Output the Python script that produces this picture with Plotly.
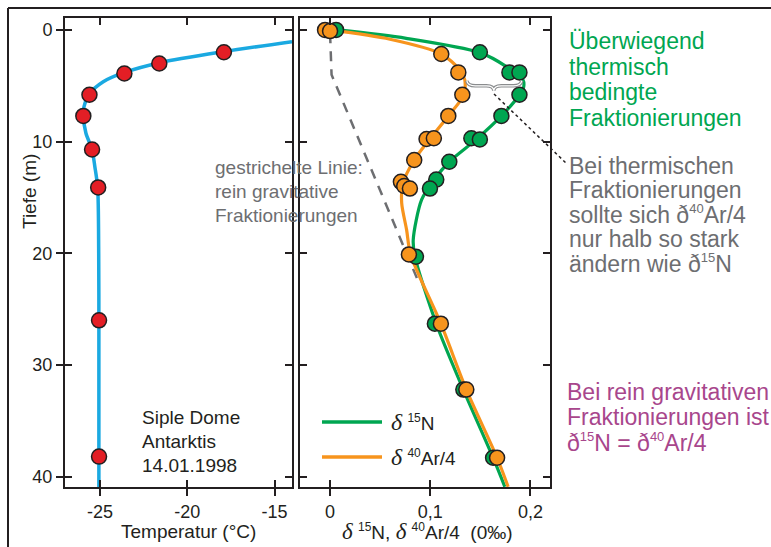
import plotly.graph_objects as go

# ---------------- data ----------------
# Left panel: temperature profile, Siple Dome
temp_depth = [2.0, 3.0, 3.9, 5.8, 7.7, 10.7, 14.1, 26.0, 38.2]
temp_val = [-17.9, -21.6, -23.6, -25.6, -25.95, -25.45, -25.1, -25.05, -25.05]
temp_curve_depth = [1.05, 1.94, 2.93, 3.82, 4.63, 5.73, 6.87, 7.67, 9.25, 10.65, 12.24, 14.1, 20.0, 26.0, 41.0]
temp_curve_val = [-14.0, -17.9, -21.57, -23.63, -24.81, -25.61, -25.91, -25.95, -25.8, -25.46, -25.29, -25.13, -25.07, -25.06, -25.06]

# Right panel: delta15N and delta40Ar/4 measurements
n15_depth = [0.0, 2.0, 3.8, 3.8, 5.8, 7.7, 9.7, 9.8, 11.8, 13.4, 14.2, 20.3, 26.3, 32.2, 38.3]
n15_val = [0.006, 0.1495, 0.179, 0.189, 0.189, 0.171, 0.141, 0.1495, 0.119, 0.106, 0.0997, 0.0857, 0.1046, 0.133, 0.1627]
ar_depth = [0.0, 0.1, 2.15, 3.8, 5.8, 7.7, 9.76, 9.7, 11.64, 13.6, 13.97, 14.2, 20.1, 26.3, 32.2, 38.3]
ar_val = [-0.005, 0.0, 0.111, 0.128, 0.132, 0.118, 0.0963, 0.1036, 0.084, 0.0707, 0.074, 0.0797, 0.0787, 0.1106, 0.136, 0.1667]

# smooth fitted curves
n15_curve_depth = [0.0, 0.75, 2.03, 3.28, 4.48, 5.2, 5.82, 7.7, 9.8, 11.8, 13.4, 15.2, 18.8, 20.3, 26.3, 32.2, 38.3, 40.9]
n15_curve_val = [0.008, 0.076, 0.1495, 0.176, 0.1926, 0.193, 0.189, 0.171, 0.146, 0.119, 0.104, 0.0914, 0.083, 0.0847, 0.106, 0.133, 0.1627, 0.1744]
ar_curve_depth = [0.0, 0.83, 2.15, 3.58, 4.48, 5.82, 7.7, 9.73, 11.64, 13.8, 15.5, 17.9, 20.1, 26.3, 32.2, 38.3, 40.9]
ar_curve_val = [0.0, 0.0598, 0.111, 0.1295, 0.1345, 0.1335, 0.118, 0.1, 0.084, 0.0725, 0.0715, 0.0764, 0.0804, 0.1106, 0.136, 0.1667, 0.1777]

# purely gravitational fractionation (dashed)
grav_depth = [0.3, 4.0, 22.4]
grav_val = [0.0, 0.0015, 0.0875]

# axes / ticks
depth_ticks = [0, 10, 20, 30, 40]
depth_ticktext = ["0", "10", "20", "30", "40"]
temp_ticks = [-25, -20, -15]
temp_ticktext = ["-25", "-20", "-15"]
delta_ticks = [0, 0.1, 0.2]
delta_ticktext = ["0", "0,1", "0,2"]
depth_range = [40.92, -1.07]
temp_range = [-27, -14]
delta_range = [-0.03, 0.2195]

# ---------------- style ----------------
W, H = 771, 547
FONT = "Liberation Sans, Arial, sans-serif"
SERIF = "Liberation Serif, Times New Roman, serif"
DARK = "#231F20"
BLUE = "#1AA9E1"
RED = "#E31E25"
GREEN = "#00A651"
ORANGE = "#F7941D"
GRAY = "#6D6E71"
MAGENTA = "#A8468C"


def px(x):
    return x / W


def py(y):
    return 1 - y / H


fig = go.Figure()

# left panel
fig.add_trace(go.Scatter(x=temp_curve_val, y=temp_curve_depth, mode="lines",
                         line=dict(color=BLUE, width=3.5, shape="spline", smoothing=0.8),
                         xaxis="x", yaxis="y", hoverinfo="skip", showlegend=False))
fig.add_trace(go.Scatter(x=temp_val, y=temp_depth, mode="markers",
                         marker=dict(size=15, color=RED, line=dict(color=DARK, width=1.5)),
                         xaxis="x", yaxis="y", showlegend=False))

# right panel
fig.add_trace(go.Scatter(x=grav_val, y=grav_depth, mode="lines",
                         line=dict(color=GRAY, width=2.5, dash="10px,8px"),
                         xaxis="x2", yaxis="y2", hoverinfo="skip", showlegend=False))
fig.add_trace(go.Scatter(x=n15_curve_val, y=n15_curve_depth, mode="lines",
                         line=dict(color=GREEN, width=3.2, shape="spline", smoothing=0.8),
                         xaxis="x2", yaxis="y2", hoverinfo="skip", showlegend=False))
fig.add_trace(go.Scatter(x=ar_curve_val, y=ar_curve_depth, mode="lines",
                         line=dict(color=ORANGE, width=3.2, shape="spline", smoothing=0.8),
                         xaxis="x2", yaxis="y2", hoverinfo="skip", showlegend=False))
fig.add_trace(go.Scatter(x=n15_val, y=n15_depth, mode="markers",
                         marker=dict(size=15, color=GREEN, line=dict(color=DARK, width=1.5)),
                         xaxis="x2", yaxis="y2", showlegend=False))
fig.add_trace(go.Scatter(x=ar_val, y=ar_depth, mode="markers",
                         marker=dict(size=15, color=ORANGE, line=dict(color=DARK, width=1.5)),
                         xaxis="x2", yaxis="y2", showlegend=False))

# empty traces so that the overlay tick axes (outer tick halves + labels) are drawn
for xa, ya in [("x3", "y"), ("x", "y3"), ("x4", "y2")]:
    fig.add_trace(go.Scatter(x=[None], y=[None], mode="markers", xaxis=xa, yaxis=ya,
                             hoverinfo="skip", showlegend=False))

ydom = [py(487), py(18)]
common_in = dict(showline=True, linecolor=DARK, linewidth=2, mirror="ticks", ticks="inside",
                 ticklen=7, tickwidth=2, tickcolor=DARK, showticklabels=False,
                 showgrid=False, zeroline=False)
common_out = dict(showline=False, ticks="outside", ticklen=8, tickwidth=2, tickcolor=DARK,
                  showgrid=False, zeroline=False, tickfont=dict(family=FONT, size=18, color=DARK))

fig.update_layout(
    width=W, height=H, margin=dict(l=0, r=0, t=0, b=0),
    paper_bgcolor="white", plot_bgcolor="white",
    font=dict(family=FONT, color=DARK),
    showlegend=False,
    xaxis=dict(domain=[px(65), px(292)], range=temp_range, anchor="y",
               tickvals=temp_ticks, **common_in),
    xaxis3=dict(overlaying="x", anchor="y", side="bottom", range=temp_range,
                tickvals=temp_ticks, ticktext=temp_ticktext, **common_out),
    yaxis=dict(domain=ydom, range=depth_range, anchor="x",
               tickvals=depth_ticks, **common_in),
    yaxis3=dict(overlaying="y", anchor="x", side="left", range=depth_range,
                tickvals=depth_ticks, ticktext=depth_ticktext, **common_out),
    xaxis2=dict(domain=[px(300), px(550)], range=delta_range, anchor="y2",
                tickvals=delta_ticks, **common_in),
    xaxis4=dict(overlaying="x2", anchor="y2", side="bottom", range=delta_range,
                tickvals=delta_ticks, ticktext=delta_ticktext, **common_out),
    yaxis2=dict(domain=ydom, range=depth_range, anchor="x2",
                tickvals=depth_ticks, **common_in),
)

shapes = [
    # outer frame (top and left)
    dict(type="line", xref="paper", yref="paper", x0=px(8), x1=1.0, y0=py(8), y1=py(8),
         line=dict(color=DARK, width=2)),
    dict(type="line", xref="paper", yref="paper", x0=px(8), x1=px(8), y0=py(8), y1=0,
         line=dict(color=DARK, width=2)),
    # legend swatches
    dict(type="line", xref="paper", yref="paper", x0=px(322), x1=px(382), y0=py(422), y1=py(422),
         line=dict(color=GREEN, width=3.5)),
    dict(type="line", xref="paper", yref="paper", x0=px(322), x1=px(382), y0=py(457), y1=py(457),
         line=dict(color=ORANGE, width=3.5)),
    # dotted connector
    dict(type="line", xref="paper", yref="paper", x0=px(494), x1=px(566), y0=py(94), y1=py(163),
         line=dict(color=DARK, width=1.5, dash="dot")),
]
brace = ("M 0.1365,4.55 Q 0.1372,5.0 0.145,5.0 L 0.156,5.0 Q 0.1634,5.0 0.1634,5.45 "
         "Q 0.1634,5.0 0.171,5.0 L 0.183,5.0 Q 0.1906,5.0 0.1913,4.55")
shapes.append(dict(type="path", xref="x2", yref="y2", path=brace, line=dict(color="#8A8C8E", width=3.5)))
shapes.append(dict(type="path", xref="x2", yref="y2", path=brace, line=dict(color="white", width=1.3)))
fig.update_layout(shapes=shapes)

annotations = []


def ann(text, x, y, size, color=DARK, xanchor="left", angle=0):
    annotations.append(dict(text=text, x=px(x), y=py(y), xref="paper", yref="paper",
                            xanchor=xanchor, yanchor="middle", showarrow=False, textangle=angle,
                            font=dict(family=FONT, size=size, color=color)))


def delta(size):
    return f"<span style='font-family:{SERIF};font-size:{size}px'><i>δ</i></span>"


def small_sup(txt, size):
    return f"<sup><span style='font-size:{size}px'>{txt}</span></sup>"


# axis titles
ann("Temperatur (°C)", 188, 531, 19, DARK, "center")
ann(delta(23) + " " + small_sup("15", 12) + "N, " + delta(23) + " " + small_sup("40", 12)
    + "Ar/4 \u00a0(0‰)", 427, 531, 19, DARK, "center")
ann("Tiefe (m)", 29, 192, 19, DARK, "center", -90)

# left panel label
for i, t in enumerate(["Siple Dome", "Antarktis", "14.01.1998"]):
    ann(t, 140, 417 + 24 * i, 19, DARK)

# dashed line label
for i, t in enumerate(["gestrichelte Linie:", "rein gravitative", "Fraktionierungen"]):
    ann(t, 213, 167 + 24 * i, 19, GRAY)

# legend text
ann(delta(24) + " " + small_sup("15", 12) + "N", 389, 422, 19, DARK)
ann(delta(24) + " " + small_sup("40", 12) + "Ar/4", 389, 457, 19, DARK)

# right-side notes
for i, t in enumerate(["Überwiegend", "thermisch", "bedingte", "Fraktionierungen"]):
    ann(t, 567, 41 + 25.7 * i, 23, GREEN)
for i, t in enumerate(["Bei thermischen", "Fraktionierungen",
                       "sollte sich ð" + small_sup("40", 13) + "Ar/4",
                       "nur halb so stark", "ändern wie ð" + small_sup("15", 13) + "N"]):
    ann(t, 567, 166 + 24.4 * i, 23, GRAY)
for i, t in enumerate(["Bei rein gravitativen", "Fraktionierungen ist",
                       "ð" + small_sup("15", 13) + "N = ð" + small_sup("40", 13) + "Ar/4"]):
    ann(t, 565, 392 + 25 * i, 23, MAGENTA)

fig.update_layout(annotations=annotations)

fig.write_html("out.html")
